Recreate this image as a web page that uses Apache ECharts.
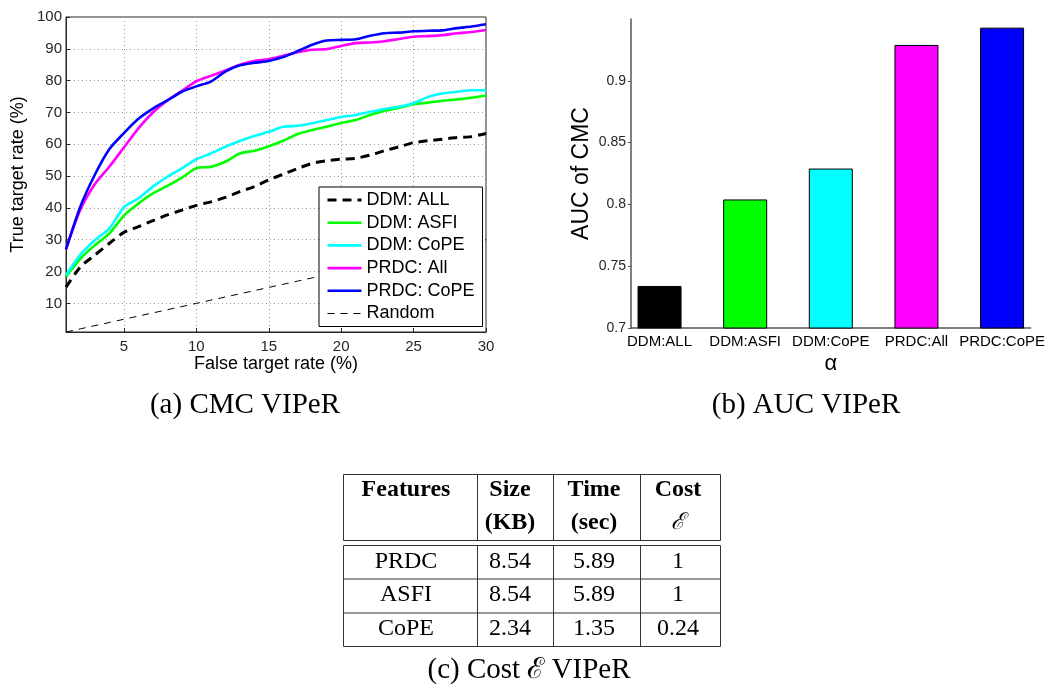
<!DOCTYPE html>
<html><head><meta charset="utf-8">
<script src="https://cdn.jsdelivr.net/npm/echarts@6/dist/echarts.min.js"></script>
<style>html,body{margin:0;padding:0;background:#fff}#c{width:1048px;height:688px}</style>
</head><body><div id="c"></div>
<script>
// ---- data (a) CMC VIPeR ----
const falseTargetRate = [1,2,3,4,5,6,7,8,9,10,11,12,13,14,15,16,17,18,19,20,21,22,23,24,25,26,27,28,29,30];
const ddmAll   = [15.1,21.5,25.2,28.9,32.3,34.1,36.0,37.8,39.3,40.8,41.9,43.3,45.1,46.7,48.8,50.6,52.4,54.0,54.8,55.3,55.6,56.6,58.0,59.2,60.5,61.1,61.6,62.1,62.4,63.4];
const ddmAsfi  = [18.4,24.1,28.3,32.0,37.6,41.4,44.6,46.9,49.5,52.5,52.9,54.5,57.1,58.0,59.4,61.1,63.2,64.5,65.5,66.7,67.6,69.2,70.5,71.5,72.6,73.1,73.7,74.1,74.6,75.3];
const ddmCope  = [18.9,25.3,29.9,33.6,40.2,43.0,46.7,49.8,52.4,55.3,57.1,59.2,61.0,62.6,63.9,65.5,65.8,66.6,67.6,68.6,69.2,70.2,71.1,71.8,72.9,74.9,76.0,76.5,77.0,77.0];
const prdcAll  = [27.0,39.5,47.5,53.0,59.0,65.0,70.0,73.8,76.8,79.8,81.5,83.2,85.0,86.2,86.7,87.8,88.9,89.7,89.9,90.9,91.8,92.0,92.4,93.1,93.8,94.0,94.3,94.9,95.3,95.9];
const prdcCope = [27.0,40.5,50.5,58.5,63.5,68.0,71.2,73.8,76.5,78.2,79.7,82.8,84.8,85.6,86.2,87.4,89.3,91.3,92.6,92.8,93.0,94.1,94.9,95.1,95.5,95.7,95.8,96.5,97.0,97.7];
const randomRate = [1,2,3,4,5,6,7,8,9,10,11,12,13,14,15,16,17,18,19,20,21,22,23,24,25,26,27,28,29,30];
const cmcNames = ['DDM: ALL','DDM: ASFI','DDM: CoPE','PRDC: All','PRDC: CoPE','Random'];

// ---- data (b) AUC VIPeR ----
const aucCategories = ['DDM:ALL','DDM:ASFI','DDM:CoPE','PRDC:All','PRDC:CoPE'];
const aucValues = [0.734,0.804,0.829,0.929,0.943];
const aucTicks = [0.7,0.75,0.8,0.85,0.9];

// ---- data (c) Cost table ----
const tableHead1 = ['Features','Size','Time','Cost'];
const tableHead2 = ['','(KB)','(sec)','\u2130'];
const tableRows = [
  ['PRDC','8.54','5.89','1'],
  ['ASFI','8.54','5.89','1'],
  ['CoPE','2.34','1.35','0.24']
];
const captions = ['(a) CMC VIPeR','(b) AUC VIPeR','(c) Cost \u2130 VIPeR'];

// ---- styles ----
const SANS = '"Liberation Sans", Arial, sans-serif';
const SERIF = '"Liberation Serif", "Times New Roman", serif';
const lineColors = ['#000000','#00ff00','#00ffff','#ff00ff','#0000ff','#000000'];
const lineWidths = [3, 2.6, 2.6, 2.6, 2.6, 1];
const lineDashes = [[9, 6], 'solid', 'solid', 'solid', 'solid', [7, 6]];
const barColors = ['#000000','#00ff00','#00ffff','#ff00ff','#0000ff'];
const AX = '#262626';

const chart = echarts.init(document.getElementById('c'), null, {renderer:'canvas'});

const cmcData = [ddmAll, ddmAsfi, ddmCope, prdcAll, prdcCope, randomRate];
const lineSeries = cmcData.map((arr, i) => ({
  name: cmcNames[i],
  type: 'line',
  xAxisIndex: 0, yAxisIndex: 0,
  data: arr.map((v, k) => [falseTargetRate[k], v]),
  symbol: 'none',
  smooth: i === 5 ? false : 0.25,
  silent: true,
  lineStyle: {color: lineColors[i], width: lineWidths[i], type: lineDashes[i]},
  itemStyle: {color: lineColors[i]}
}));

const barSeries = {
  type: 'bar',
  xAxisIndex: 1, yAxisIndex: 1,
  barWidth: 44,
  data: aucValues.map((v, i) => ({value: [i + 1, v], itemStyle: {color: barColors[i], borderColor: '#000', borderWidth: 1}})),
  silent: true
};

// table graphic
const colEdges = [343, 477, 553, 640, 720];
const colCenters = [406, 510, 594, 678];
const headTop = 474, headBottom = 540, bodyTop = 545, rowBottoms = [578.5, 612.5, 646];
const headY = [490, 523];
const rowY = [562, 595, 629];
const lineStyle = {stroke: '#333', lineWidth: 1};
const g = [];
g.push({type:'rect', shape:{x:colEdges[0]+0.5, y:headTop+0.5, width:colEdges[4]-colEdges[0], height:headBottom-headTop}, style:{fill:'none', stroke:'#333', lineWidth:1}});
g.push({type:'rect', shape:{x:colEdges[0]+0.5, y:bodyTop+0.5, width:colEdges[4]-colEdges[0], height:rowBottoms[2]-bodyTop}, style:{fill:'none', stroke:'#333', lineWidth:1}});
for (let c = 1; c < 4; c++) {
  g.push({type:'line', shape:{x1:colEdges[c]+0.5, y1:headTop, x2:colEdges[c]+0.5, y2:headBottom}, style:lineStyle});
  g.push({type:'line', shape:{x1:colEdges[c]+0.5, y1:bodyTop, x2:colEdges[c]+0.5, y2:rowBottoms[2]}, style:lineStyle});
}
for (let r = 0; r < 2; r++) {
  g.push({type:'line', shape:{x1:colEdges[0], y1:rowBottoms[r]+0.5, x2:colEdges[4], y2:rowBottoms[r]+0.5}, style:lineStyle});
}
tableHead1.forEach((t, c) => g.push({type:'text', x:colCenters[c], y:headY[0], style:{text:t, fill:'#000', font:'bold 24px '+SERIF, align:'center', verticalAlign:'middle'}}));
tableHead2.forEach((t, c) => g.push({type:'text', x:colCenters[c], y:headY[1], style:{text:t, fill:'#000', font:(c===3?'italic 23px ':'bold 24px ')+SERIF, align:'center', verticalAlign:'middle'}}));
tableRows.forEach((row, r) => row.forEach((t, c) => g.push({type:'text', x:colCenters[c], y:rowY[r], style:{text:t, fill:'#000', font:'24px '+SERIF, align:'center', verticalAlign:'middle'}})));
// captions
const capPos = [[245, 405], [806, 405], [529, 670]];
captions.forEach((t, i) => g.push({type:'text', x:capPos[i][0], y:capPos[i][1], style:{text:t, fill:'#000', font:'29px '+SERIF, align:'center', verticalAlign:'middle'}}));

const option = {
  animation: false,
  backgroundColor: '#fff',
  textStyle: {fontFamily: SANS},
  grid: [
    {left: 66, top: 17, width: 420, height: 315, show: true, borderColor: AX, borderWidth: 1, backgroundColor: 'transparent', containLabel: false},
    {left: 631, top: 19, width: 402, height: 309, containLabel: false}
  ],
  legend: {
    data: cmcNames.map((n, i) => ({name: n, lineStyle: {width: lineWidths[i], type: lineDashes[i], color: lineColors[i]}})),
    orient: 'vertical',
    left: 319, top: 187,
    z: 20,
    padding: [4, 8, 4, 7],
    itemWidth: 34, itemHeight: 14, itemGap: 4.7,
    backgroundColor: '#fff', borderColor: '#000', borderWidth: 1, borderRadius: 0,
    itemStyle: {opacity: 0},
    textStyle: {fontFamily: SANS, fontSize: 18, color: '#000'},
    selectedMode: false
  },
  xAxis: [
    {type: 'value', gridIndex: 0, min: 1, max: 30, minInterval: 5, maxInterval: 5,
     name: 'False target rate (%)', nameLocation: 'middle', nameGap: 21,
     nameTextStyle: {fontSize: 18, color: '#000', fontFamily: SANS, verticalAlign: 'top'},
     axisLine: {show: true, lineStyle: {color: AX, width: 1}},
     axisTick: {show: true, inside: true, length: 4, lineStyle: {color: AX}},
     axisLabel: {fontSize: 15, color: AX, margin: 7, fontFamily: SANS, showMinLabel: true, showMaxLabel: true,
       formatter: v => (Math.abs(v % 5) < 1e-6 ? String(v) : '')},
     splitLine: {show: true, lineStyle: {color: '#9a9a9a', type: [1, 3], width: 1}}},
    {type: 'value', gridIndex: 1, min: 2/3, max: 16/3, minInterval: 1, maxInterval: 1,
     name: '\u03b1', nameLocation: 'middle', nameGap: 25,
     nameTextStyle: {fontSize: 22, color: '#000', fontFamily: SANS, verticalAlign: 'top'},
     axisLine: {show: true, lineStyle: {color: '#555', width: 1.5}},
     axisTick: {show: false},
     axisLabel: {fontSize: 15, color: '#000', margin: 6, fontFamily: SANS, showMinLabel: true, showMaxLabel: true,
       formatter: v => { const r = Math.round(v); return (Math.abs(v - r) < 1e-6 && r >= 1 && r <= aucCategories.length) ? aucCategories[r - 1] : ''; }},
     splitLine: {show: false}}
  ],
  yAxis: [
    {type: 'value', gridIndex: 0, min: 1, max: 100, minInterval: 10, maxInterval: 10,
     name: 'True target rate (%)', nameLocation: 'middle', nameGap: 39, nameRotate: 90,
     nameTextStyle: {fontSize: 18, color: '#000', fontFamily: SANS},
     axisLine: {show: true, lineStyle: {color: AX, width: 1}},
     axisTick: {show: true, inside: true, length: 4, lineStyle: {color: AX}},
     axisLabel: {fontSize: 15, color: AX, margin: 4, fontFamily: SANS, showMinLabel: true, showMaxLabel: true,
       formatter: v => (Math.abs(v % 10) < 1e-6 ? String(v) : '')},
     splitLine: {show: true, lineStyle: {color: '#9a9a9a', type: [1, 3], width: 1}}},
    {type: 'value', gridIndex: 1, min: 0.7, max: 0.95, interval: 0.05,
     name: 'AUC of CMC', nameLocation: 'middle', nameGap: 38, nameRotate: 90,
     nameTextStyle: {fontSize: 23, color: '#000', fontFamily: SANS},
     axisLine: {show: true, lineStyle: {color: '#555', width: 1.5}},
     axisTick: {show: true, inside: false, length: 3, lineStyle: {color: '#555'}, customValues: aucTicks},
     axisLabel: {fontSize: 14, color: AX, margin: 5, fontFamily: SANS, customValues: aucTicks,
       formatter: v => String(Math.round(v * 100) / 100)},
     splitLine: {show: false}}
  ],
  series: lineSeries.concat([barSeries]),
  graphic: g
};
chart.setOption(option);
</script></body></html>
